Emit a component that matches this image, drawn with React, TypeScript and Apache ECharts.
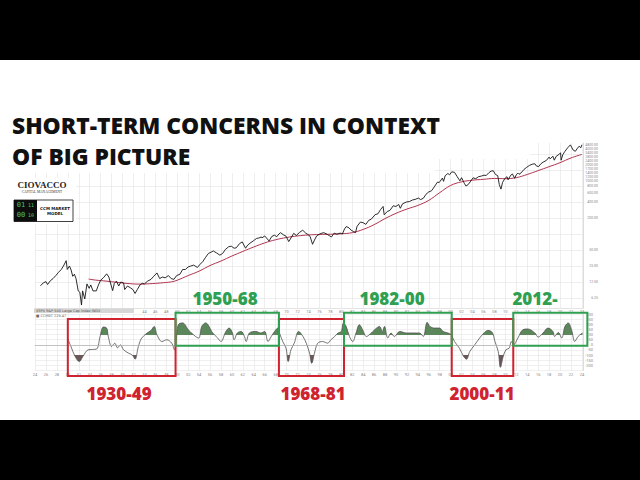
import React, { useEffect, useRef } from 'react';
import * as echarts from 'echarts';

// ---- Upper panel: S&P 500 (log scale) ----
const priceYears = [
  1925.0, 1925.5, 1926.0, 1926.3, 1926.8, 1927.3, 1927.8, 1928.3, 1928.8, 1929.2, 1929.7, 1929.9,
  1930.3, 1930.6, 1930.9, 1931.2, 1931.5, 1931.9, 1932.2, 1932.5, 1932.7, 1933.1, 1933.5, 1933.9,
  1934.2, 1934.6, 1935.2, 1935.6, 1936.0, 1936.5, 1937.1, 1937.5, 1937.9, 1938.2, 1938.5, 1938.9,
  1939.3, 1939.7, 1940.2, 1940.4, 1940.9, 1941.4, 1941.9, 1942.3, 1942.7, 1943.2, 1943.6, 1944.0,
  1944.6, 1945.2, 1945.7, 1946.3, 1946.8, 1947.3, 1947.8, 1948.4, 1948.9, 1949.4, 1949.9, 1950.5,
  1951.0, 1951.5, 1952.0, 1952.5, 1953.0, 1953.7, 1954.2, 1954.7, 1955.2, 1955.7, 1956.2, 1956.6,
  1957.2, 1957.8, 1958.3, 1958.8, 1959.4, 1959.9, 1960.4, 1960.8, 1961.4, 1961.9, 1962.5, 1962.9,
  1963.5, 1963.9, 1964.5, 1964.9, 1965.4, 1965.5, 1966.0, 1966.8, 1967.3, 1967.8, 1968.2, 1968.6,
  1968.9, 1969.4, 1969.9, 1970.4, 1970.8, 1971.3, 1971.8, 1972.4, 1972.95, 1973.5, 1973.9, 1974.3,
  1974.75, 1975.1, 1975.5, 1976.2, 1976.8, 1977.4, 1977.9, 1978.2, 1978.7, 1979.2, 1979.8, 1980.2,
  1980.6, 1980.9, 1981.4, 1981.8, 1982.2, 1982.6, 1982.9, 1983.5, 1984.0, 1984.5, 1985.0, 1985.5,
  1986.2, 1986.7, 1987.2, 1987.65, 1987.85, 1988.4, 1988.9, 1989.5, 1990.0, 1990.5, 1990.8, 1991.2,
  1991.9, 1992.5, 1993.0, 1993.5, 1994.1, 1994.5, 1995.0, 1995.5, 1996.0, 1996.5, 1997.0, 1997.6,
  1997.9, 1998.5, 1998.7, 1999.0, 1999.5, 1999.8, 2000.2, 2000.7, 2001.2, 2001.7, 2002.0, 2002.5,
  2002.8, 2003.2, 2003.7, 2004.1, 2004.6, 2005.1, 2005.6, 2006.1, 2006.5, 2007.0, 2007.4, 2007.8,
  2008.2, 2008.6, 2008.9, 2009.2, 2009.5, 2009.9, 2010.3, 2010.5, 2011.0, 2011.3, 2011.7, 2012.0,
  2012.3, 2012.5, 2012.9, 2013.4, 2013.9, 2014.4, 2014.9, 2015.4, 2015.7, 2016.1, 2016.5, 2016.9,
  2017.5, 2018.0, 2018.2, 2018.7, 2018.95, 2019.3, 2019.9, 2020.1, 2020.2, 2020.5, 2020.9, 2021.4,
  2021.9, 2022.4, 2022.8, 2023.1, 2023.5, 2023.8, 2024.0,
];
const priceValues = [
  10.6, 12.0, 12.7, 11.2, 13.2, 14.5, 16.5, 19.0, 21.5, 25.0, 31.5, 21.5,
  25.0, 21.0, 16.0, 17.5, 14.5, 8.5, 8.0, 4.6, 8.5, 6.0, 11.5, 9.5,
  11.0, 8.5, 8.5, 11.0, 13.5, 15.0, 17.8, 15.5, 11.0, 8.6, 11.8, 13.0,
  10.5, 12.5, 12.0, 9.0, 10.5, 9.8, 9.0, 7.6, 9.0, 11.0, 11.8, 11.5,
  13.0, 14.0, 16.0, 18.5, 14.5, 15.5, 15.0, 16.5, 14.5, 14.0, 16.5, 17.5,
  21.5, 21.5, 24.0, 25.0, 26.0, 23.5, 27.0, 30.5, 36.5, 43.0, 45.5, 48.0,
  44.0, 40.0, 43.0, 51.0, 57.5, 59.0, 54.0, 55.0, 66.0, 71.0, 54.0, 62.0,
  69.5, 74.0, 82.5, 84.0, 88.0, 84.5, 92.0, 74.0, 90.0, 95.0, 89.0, 100.0,
  106.0, 97.0, 91.0, 72.0, 84.0, 103.0, 94.0, 108.0, 118.0, 104.0, 98.0, 90.0,
  64.0, 77.0, 92.0, 102.0, 106.0, 99.0, 92.0, 88.0, 104.0, 99.0, 104.0, 100.0,
  125.0, 138.0, 131.0, 118.0, 112.0, 106.0, 140.0, 168.0, 163.0, 152.0, 180.0, 191.0,
  232.0, 240.0, 290.0, 330.0, 230.0, 265.0, 278.0, 340.0, 330.0, 360.0, 305.0, 370.0,
  400.0, 410.0, 436.0, 448.0, 475.0, 445.0, 470.0, 560.0, 620.0, 650.0, 770.0, 950.0,
  930.0, 1130.0, 980.0, 1250.0, 1380.0, 1300.0, 1480.0, 1450.0, 1200.0, 1000.0, 1150.0, 900.0,
  800.0, 850.0, 1000.0, 1140.0, 1100.0, 1200.0, 1230.0, 1280.0, 1260.0, 1430.0, 1530.0, 1550.0,
  1320.0, 1260.0, 850.0, 700.0, 940.0, 1100.0, 1200.0, 1050.0, 1280.0, 1350.0, 1120.0, 1300.0,
  1400.0, 1330.0, 1420.0, 1640.0, 1800.0, 1950.0, 2060.0, 2100.0, 1900.0, 1860.0, 2100.0, 2250.0,
  2420.0, 2800.0, 2600.0, 2910.0, 2450.0, 2900.0, 3200.0, 3380.0, 2450.0, 3100.0, 3600.0, 4200.0,
  4760.0, 3800.0, 3600.0, 4000.0, 4500.0, 4200.0, 4780.0,
];
const maYears = [
  1933.8, 1935, 1937, 1939, 1941, 1943, 1945, 1947, 1949, 1950, 1952, 1954, 1956, 1958, 1960,
  1962, 1964, 1966, 1968, 1970, 1972, 1974, 1976, 1978, 1980, 1982, 1984, 1986, 1988, 1990, 1992,
  1994, 1996, 1998, 2000, 2002, 2004, 2006, 2008, 2010, 2012, 2014, 2016, 2018, 2020, 2022, 2024,
];
const maValues = [
  14.2, 13.6, 13.0, 12.3, 11.7, 11.4, 11.6, 12.0, 12.6, 13.5, 16.5, 20.0, 25.5, 31.0, 38.5,
  47.0, 57.0, 68.0, 78.0, 86.0, 92.0, 96.0, 98.0, 99.0, 101.0, 106.0, 122.0, 150.0, 195.0, 245.0, 295.0,
  345.0, 430.0, 600.0, 820.0, 960.0, 1030.0, 1070.0, 1110.0, 1100.0, 1150.0, 1320.0, 1560.0, 1850.0, 2200.0, 2700.0, 3150.0,
];
const upperLabelValues = [6.25, 12.5, 25, 50, 200, 400, 600, 800, 1000, 1200, 1400, 1700, 2000, 2400, 2800, 3400, 4000, 4800];
const upperGridValues = [6.25, 12.5, 25, 50, 100, 200, 400, 800, 1600, 3200];

// ---- Lower panel: CCM indicator ----
const ccmYears = [
  1930.0, 1930.6, 1931.3, 1932.1, 1932.8, 1933.7, 1934.5, 1935.3, 1935.9, 1936.5, 1937.1, 1937.4,
  1938.0, 1938.6, 1939.1, 1939.6, 1940.2, 1941.1, 1941.8, 1942.3, 1942.9, 1943.5, 1944.5, 1945.2,
  1945.8, 1946.3, 1947.2, 1948.1, 1949.0, 1949.5, 1949.8, 1950.2, 1951.0, 1952.0, 1952.6, 1953.9,
  1954.5, 1955.2, 1956.5, 1957.4, 1958.0, 1958.9, 1959.5, 1960.1, 1960.4, 1961.0, 1961.7, 1962.3,
  1962.6, 1963.2, 1964.4, 1965.3, 1966.0, 1966.6, 1967.2, 1967.8, 1968.4, 1968.7, 1969.3, 1969.9,
  1970.3, 1970.8, 1971.4, 1972.2, 1973.0, 1973.6, 1974.2, 1974.6, 1975.1, 1975.7, 1976.6, 1977.5,
  1978.1, 1978.8, 1979.4, 1980.0, 1980.4, 1980.9, 1981.5, 1982.1, 1982.7, 1983.3, 1983.9, 1984.6,
  1985.5, 1986.1, 1987.0, 1987.5, 1987.9, 1988.5, 1989.1, 1989.7, 1990.7, 1991.9, 1993.1, 1994.3,
  1995.0, 1995.7, 1996.2, 1997.1, 1998.0, 1998.6, 1999.5, 2000.1, 2000.7, 2001.6, 2002.4, 2002.9,
  2003.5, 2004.4, 2005.3, 2006.2, 2006.8, 2007.6, 2008.1, 2008.7, 2009.1, 2009.6, 2010.1, 2010.7,
  2011.1, 2011.5, 2012.3, 2013.2, 2014.1, 2015.4, 2016.0, 2016.9, 2017.8, 2018.7, 2019.0, 2019.7,
  2020.3, 2020.9, 2021.5, 2022.1, 2022.7, 2023.3, 2024.1,
];
const ccmValues = [
  56, -20, -110, -163, -110, -49, -45, -40, 81, 173, 163, 81,
  -16, 16, -30, 0, -49, -81, -100, -140, -16, 65, 114, 140,
  179, 98, 32, 49, 16, -49, 40, 196, 213, 150, 115, 66,
  180, 213, 115, 66, 32, 130, 163, 115, 49, 115, 130, 81,
  32, 115, 130, 115, 130, 32, 81, 130, 163, 115, 32, -33,
  -163, -49, 16, 130, 81, 16, -81, -180, -81, 16, 32, 16,
  49, 81, 115, 130, 213, 179, 81, 32, 115, 196, 147, 81,
  115, 147, 179, 130, 179, 66, 115, 81, 130, 115, 115, 115,
  81, 219, 179, 163, 163, 130, 115, 98, 32, -33, -115, -140,
  -65, 0, 66, 121, 140, 121, 32, -65, -219, -115, -49, -33,
  32, 0, 66, 147, 154, 115, 75, 115, 163, 130, 81, 121,
  66, 179, 213, 147, 32, 81, 115,
];
const ccmUpper = 100;
const ccmLower = -100;

// ---- Annotated eras ----
const redEras = ['1930-49', '1968-81', '2000-11'];
const redStarts = [1930.0, 1968.6, 2000.2];
const redEnds = [1949.7, 1980.5, 2011.45];
const greenEras = ['1950-68', '1982-00', '2012-'];
const greenStarts = [1949.7, 1980.5, 2011.45];
const greenEnds = [1968.6, 2000.2, 2025.0];

const RED = '#cf2330';
const GREEN = '#2f9f52';

const fmtYear = (v: number) => (Number.isInteger(v) ? String(v % 100).padStart(2, '0') : '');

export default function App() {
  const ref = useRef<HTMLDivElement>(null);
  useEffect(() => {
    if (!ref.current) return;
    const chart = echarts.init(ref.current, null, { renderer: 'svg' });
    const pricePts = priceYears.map((y, i) => [y, priceValues[i]]);
    const maPts = maYears.map((y, i) => [y, maValues[i]]);
    const ccmPts = ccmYears.map((y, i) => [y, ccmValues[i]]);
    const tinyLabel = { fontSize: 4, color: '#888', fontFamily: 'Roboto' };
    const xCommon = {
      type: 'value' as const,
      min: 1924,
      max: 2024.2,
      interval: 2,
      axisTick: { show: false },
      axisLine: { show: true, lineStyle: { color: '#d0d0d0', width: 0.6 } },
      splitLine: { show: true, lineStyle: { color: '#e3e3e3', width: 0.6 } },
    };
    chart.setOption({
      animation: false,
      backgroundColor: '#fff',
      grid: [
        { left: 35, right: 57, top: 143, height: 165 },
        { left: 35, right: 57, top: 314, height: 56.5 },
      ],
      xAxis: [
        {
          ...xCommon, gridIndex: 0,
          axisLabel: { ...tinyLabel, margin: 1, formatter: (v: number) => (v < 1944 ? '' : fmtYear(v)) },
        },
        { ...xCommon, gridIndex: 1, axisLabel: { ...tinyLabel, margin: 2, formatter: fmtYear } },
      ],
      yAxis: [
        {
          type: 'log',
          logBase: 2,
          gridIndex: 0,
          position: 'right',
          min: 4.05,
          max: 5164,
          axisLine: { show: true, lineStyle: { color: '#d0d0d0', width: 0.6 } },
          axisTick: { show: false, customValues: upperGridValues },
          axisLabel: {
            fontSize: 3.5, color: '#888', fontFamily: 'Roboto',
            align: 'right',
            margin: 15,
            customValues: upperLabelValues,
            formatter: (v: number) => v.toFixed(2),
          },
          splitLine: { show: true, lineStyle: { color: '#e3e3e3', width: 0.6 } },
        },
        {
          type: 'value',
          gridIndex: 1,
          position: 'right',
          min: -250,
          max: 300,
          interval: 50,
          axisLine: { show: true, lineStyle: { color: '#d0d0d0', width: 0.6 } },
          axisTick: { show: false },
          axisLabel: { ...tinyLabel, align: 'right', margin: 10, formatter: (v: number) => (v === -250 ? '' : String(v)) },
          splitLine: { show: true, lineStyle: { color: '#e6e6e6', width: 0.6 } },
        },
      ],
      visualMap: {
        type: 'piecewise',
        show: false,
        seriesIndex: 2,
        dimension: 1,
        pieces: [
          { lt: ccmLower, color: '#6d5858' },
          { gte: ccmLower, lte: ccmUpper, color: 'rgba(255,255,255,0)' },
          { gt: ccmUpper, color: '#5b875b' },
        ],
      },
      series: [
        {
          type: 'line', name: 'S&P 500', xAxisIndex: 0, yAxisIndex: 0, data: pricePts,
          showSymbol: false, symbol: 'none', lineStyle: { color: '#151515', width: 0.9 }, z: 3,
        },
        {
          type: 'line', name: 'MA', xAxisIndex: 0, yAxisIndex: 0, data: maPts, smooth: 0.4,
          showSymbol: false, symbol: 'none', lineStyle: { color: '#b0334f', width: 1 }, z: 2,
        },
        {
          type: 'line', name: 'CCM fill', xAxisIndex: 1, yAxisIndex: 1, data: ccmPts, smooth: 0.35,
          showSymbol: false, symbol: 'none', lineStyle: { width: 0, opacity: 0 },
          areaStyle: { opacity: 1, origin: 0 }, z: 2,
        },
        {
          type: 'line', name: 'CCM', xAxisIndex: 1, yAxisIndex: 1, data: ccmPts, smooth: 0.35,
          showSymbol: false, symbol: 'none', lineStyle: { color: '#505050', width: 0.8 }, z: 3,
          markLine: {
            silent: true, symbol: 'none', label: { show: false },
            lineStyle: { color: '#b5b5b5', width: 0.7, type: 'solid' },
            data: [{ yAxis: 0 }],
          },
        },
      ],
    });

    const px = (yr: number) => chart.convertToPixel({ xAxisIndex: 1 }, yr) as number;
    const graphics: any[] = [
      { type: 'rect', shape: { x: 0, y: 0, width: 640, height: 60 }, style: { fill: '#000' }, z: 20 },
      { type: 'rect', shape: { x: 0, y: 420, width: 640, height: 60 }, style: { fill: '#000' }, z: 20 },
      { type: 'rect', shape: { x: 0, y: 60, width: 435, height: 113 }, style: { fill: '#fff' }, z: 1 },
      { type: 'rect', shape: { x: 435, y: 60, width: 95, height: 99 }, style: { fill: '#fff' }, z: 1 },
      { type: 'rect', shape: { x: 12, y: 178, width: 64, height: 46 }, style: { fill: '#fff' }, z: 1 },
      { type: 'text', x: 12, y: 125, z: 10, style: { text: 'SHORT-TERM CONCERNS IN CONTEXT', fill: '#111', font: '800 22.8px "Open Sans"', verticalAlign: 'middle' } },
      { type: 'text', x: 12, y: 156, z: 10, style: { text: 'OF BIG PICTURE', fill: '#111', font: '800 22.8px "Open Sans"', verticalAlign: 'middle' } },
      // logo
      { type: 'text', x: 42, y: 185, z: 10, style: { text: 'CIOVACCO', fill: '#222', font: 'bold 9px "Liberation Serif"', align: 'center', verticalAlign: 'middle' } },
      { type: 'text', x: 42, y: 191.5, z: 10, style: { text: 'CAPITAL MANAGEMENT', fill: '#333', font: '3.5px "Liberation Serif"', align: 'center', verticalAlign: 'middle' } },
      { type: 'rect', shape: { x: 14, y: 200, width: 59, height: 21.5 }, style: { fill: '#fff', stroke: '#111', lineWidth: 0.8 }, z: 10 },
      { type: 'rect', shape: { x: 14, y: 200, width: 23, height: 21.5 }, style: { fill: '#0d0d0d' }, z: 10 },
      { type: 'text', x: 21, y: 204.5, z: 11, style: { text: '01', fill: '#4cc46a', font: '7px "DejaVu Sans Mono"', align: 'center', verticalAlign: 'middle' } },
      { type: 'text', x: 31, y: 204.5, z: 11, style: { text: '11', fill: '#4cc46a', font: '5px "DejaVu Sans Mono"', align: 'center', verticalAlign: 'middle' } },
      { type: 'text', x: 21, y: 215, z: 11, style: { text: '00', fill: '#4cc46a', font: '7px "DejaVu Sans Mono"', align: 'center', verticalAlign: 'middle' } },
      { type: 'text', x: 31, y: 215, z: 11, style: { text: '10', fill: '#4cc46a', font: '5px "DejaVu Sans Mono"', align: 'center', verticalAlign: 'middle' } },
      { type: 'text', x: 55, y: 208, z: 11, style: { text: 'CCM MARKET', fill: '#111', font: 'bold 4px "DejaVu Sans"', align: 'center', verticalAlign: 'middle' } },
      { type: 'text', x: 55, y: 213.5, z: 11, style: { text: 'MODEL', fill: '#111', font: 'bold 4px "DejaVu Sans"', align: 'center', verticalAlign: 'middle' } },
      // indicator legend strip
      { type: 'rect', shape: { x: 34, y: 308.5, width: 100, height: 4.5 }, style: { fill: '#d6d6d6' }, z: 5 },
      { type: 'text', x: 36, y: 310.8, z: 6, style: { text: '$SPX S&P 500 Large Cap Index INDX', fill: '#555', font: '3.5px "DejaVu Sans"', verticalAlign: 'middle' } },
      { type: 'text', x: 36, y: 315.5, z: 6, style: { text: '■ CCMBT 229.47', fill: '#666', font: '3.5px "DejaVu Sans"', verticalAlign: 'middle' } },
    ];
    greenEras.forEach((label, i) => {
      const x0 = px(greenStarts[i]);
      const x1 = px(greenEnds[i]);
      graphics.push({ type: 'rect', shape: { x: x0, y: 312.7, width: x1 - x0, height: 33 }, style: { fill: 'none', stroke: GREEN, lineWidth: 2 }, z: 12 });
    });
    redEras.forEach((label, i) => {
      const x0 = px(redStarts[i]);
      const x1 = px(redEnds[i]);
      graphics.push({ type: 'rect', shape: { x: x0, y: 319, width: x1 - x0, height: 57 }, style: { fill: 'none', stroke: RED, lineWidth: 2 }, z: 11 });
    });
    const greenLabelX = [225, 392, 535];
    const redLabelX = [119, 313, 482];
    greenEras.forEach((label, i) => {
      graphics.push({ type: 'text', x: greenLabelX[i], y: 298, z: 12, style: { text: label, fill: GREEN, font: '800 17px "Open Sans"', align: 'center', verticalAlign: 'middle' } });
    });
    redEras.forEach((label, i) => {
      graphics.push({ type: 'text', x: redLabelX[i], y: 393, z: 12, style: { text: label, fill: RED, font: '800 17px "Open Sans"', align: 'center', verticalAlign: 'middle' } });
    });
    chart.setOption({ graphic: graphics });
    return () => chart.dispose();
  }, []);
  return <div ref={ref} style={{ position: 'fixed', left: 0, top: 0, width: 640, height: 480 }} />;
}
